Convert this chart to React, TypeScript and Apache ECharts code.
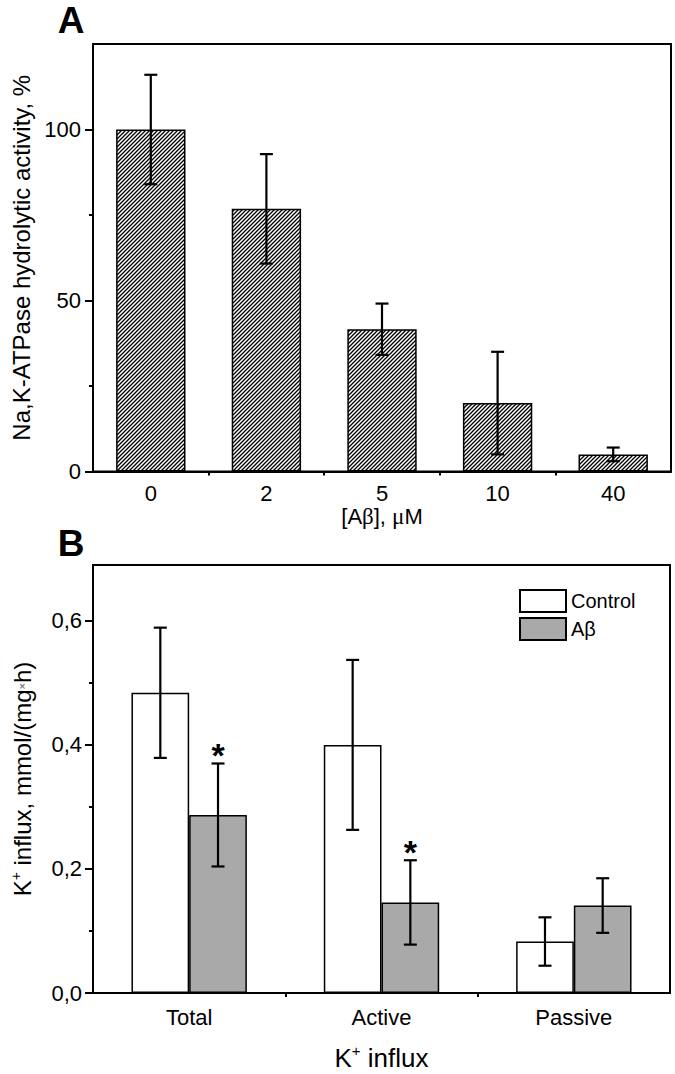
import React, { useEffect, useRef } from 'react';
import * as echarts from 'echarts';

const FONT = '"Liberation Sans", Arial, Helvetica, sans-serif';
const SERIF = '"Liberation Serif", "Times New Roman", serif';

// Panel A
const categoriesA = ['0', '2', '5', '10', '40'];
const activityA = [100, 76.8, 41.6, 20.0, 5.0];
const errorA = [16.0, 16.0, 7.5, 15.0, 2.0];
const yTicksA = [0, 50, 100];
const yMinorA = [25, 75];
const yMaxA = 125;

// Panel B
const categoriesB = ['Total', 'Active', 'Passive'];
const controlB = [0.484, 0.4, 0.083];
const controlErrB = [0.105, 0.137, 0.039];
const abetaB = [0.287, 0.146, 0.141];
const abetaErrB = [0.083, 0.068, 0.044];
const significanceB = ['*', '*', ''];
const yTicksB = [0, 0.2, 0.4, 0.6];
const yMinorB = [0.1, 0.3, 0.5];
const yMaxB = 0.69;

function makeHatch() {
  const c = document.createElement('canvas');
  c.width = 4;
  c.height = 4;
  const ctx = c.getContext('2d')!;
  ctx.fillStyle = '#fff';
  ctx.fillRect(0, 0, 4, 4);
  ctx.strokeStyle = '#000';
  ctx.lineWidth = 1.3;
  ctx.beginPath();
  ctx.moveTo(-1, 5);
  ctx.lineTo(5, -1);
  ctx.moveTo(-1, 1);
  ctx.lineTo(1, -1);
  ctx.moveTo(3, 5);
  ctx.lineTo(5, 3);
  ctx.stroke();
  return c;
}

const errorRender = (offsetFrac: number) => (params: any, api: any) => {
  const i = api.value(0);
  const m = api.value(1);
  const e = api.value(2);
  const band = api.size([1, 0])[0];
  const hi = api.coord([i, m + e]);
  const lo = api.coord([i, m - e]);
  const x = hi[0] + band * offsetFrac;
  const cap = 6.5;
  const style = { stroke: '#000', lineWidth: 2.2 };
  return {
    type: 'group',
    children: [
      { type: 'line', shape: { x1: x, y1: hi[1], x2: x, y2: lo[1] }, style },
      { type: 'line', shape: { x1: x - cap, y1: hi[1], x2: x + cap, y2: hi[1] }, style },
      { type: 'line', shape: { x1: x - cap, y1: lo[1], x2: x + cap, y2: lo[1] }, style },
    ],
  };
};

const axisLineStyle = { show: true, onZero: false, lineStyle: { color: '#000', width: 2 } };
const hiddenLine = { show: false, onZero: false };

export default function App() {
  const ref = useRef<HTMLDivElement>(null);
  useEffect(() => {
    if (!ref.current) return;
    const chart = echarts.init(ref.current, null, { renderer: 'svg' });
    const hatch = makeHatch();

    const option: any = {
      animation: false,
      backgroundColor: '#fff',
      textStyle: { fontFamily: FONT, color: '#000' },
      graphic: [
        { type: 'text', x: 71, y: 20, style: { text: 'A', fontSize: 37, fontWeight: 'bold', fontFamily: FONT, fill: '#000', align: 'center', verticalAlign: 'middle' } },
        { type: 'text', x: 71, y: 543, style: { text: 'B', fontSize: 37, fontWeight: 'bold', fontFamily: FONT, fill: '#000', align: 'center', verticalAlign: 'middle' } },
      ],
      grid: [
        { left: 93, top: 44, width: 578, height: 427.5, show: true, borderColor: '#000', borderWidth: 2, backgroundColor: 'transparent' },
        { left: 93, top: 565, width: 577, height: 428, show: true, borderColor: '#000', borderWidth: 2, backgroundColor: 'transparent' },
      ],
      legend: {
        data: ['Control', 'Aβ'],
        orient: 'vertical',
        left: 514,
        top: 584,
        itemWidth: 46,
        itemHeight: 22,
        itemGap: 4,
        icon: 'rect',
        selectedMode: false,
        textStyle: { fontSize: 20, fontFamily: FONT, color: '#000' },
      },
      xAxis: [
        {
          type: 'category', gridIndex: 0, data: categoriesA, position: 'bottom',
          axisLine: axisLineStyle,
          axisTick: { alignWithLabel: true, length: 8, lineStyle: { color: '#000', width: 2 } },
          axisLabel: { fontSize: 22, margin: 11, color: '#000', fontFamily: FONT },
          name: '{a|[A}{g|β}{a|], }{g|μ}{a|M}',
          nameLocation: 'middle', nameGap: 30,
          nameTextStyle: {
            rich: {
              a: { fontSize: 22, fontFamily: FONT, color: '#000' },
              g: { fontSize: 23, fontFamily: SERIF, color: '#000' },
            },
          },
        },
        {
          type: 'value', gridIndex: 0, min: -0.5, max: categoriesA.length - 0.5, position: 'bottom',
          axisLine: hiddenLine, splitLine: { show: false }, axisLabel: { show: false },
          axisTick: { show: true, customValues: categoriesA.slice(1).map((_, i) => i + 0.5), length: 4, lineStyle: { color: '#000', width: 2 } },
        },
        {
          type: 'category', gridIndex: 1, data: categoriesB, position: 'bottom',
          axisLine: axisLineStyle,
          axisTick: { alignWithLabel: true, length: 8, lineStyle: { color: '#000', width: 2 } },
          axisLabel: { fontSize: 22, margin: 13, color: '#000', fontFamily: FONT },
          name: '{a|K}{sup|+}{a| influx}',
          nameLocation: 'middle', nameGap: 50,
          nameTextStyle: {
            rich: {
              a: { fontSize: 26, fontFamily: FONT, color: '#000' },
              sup: { fontSize: 15, fontFamily: FONT, color: '#000', padding: [0, 0, 14, 0] },
            },
          },
        },
        {
          type: 'value', gridIndex: 1, min: -0.5, max: categoriesB.length - 0.5, position: 'bottom',
          axisLine: hiddenLine, splitLine: { show: false }, axisLabel: { show: false },
          axisTick: { show: true, customValues: categoriesB.slice(1).map((_, i) => i + 0.5), length: 4, lineStyle: { color: '#000', width: 2 } },
        },
      ],
      yAxis: [
        {
          type: 'value', gridIndex: 0, min: 0, max: yMaxA, position: 'left',
          axisLine: axisLineStyle, splitLine: { show: false },
          axisTick: { customValues: yTicksA, length: 8, lineStyle: { color: '#000', width: 2 } },
          axisLabel: { customValues: yTicksA, fontSize: 22, margin: 12, color: '#000', fontFamily: FONT },
          name: 'Na,K-ATPase hydrolytic activity, %',
          nameLocation: 'middle', nameGap: 58,
          nameTextStyle: { fontSize: 24, fontFamily: FONT, color: '#000' },
        },
        {
          type: 'value', gridIndex: 0, min: 0, max: yMaxA, position: 'left',
          axisLine: hiddenLine, splitLine: { show: false }, axisLabel: { show: false },
          axisTick: { show: true, customValues: yMinorA, length: 4, lineStyle: { color: '#000', width: 2 } },
        },
        {
          type: 'value', gridIndex: 1, min: 0, max: yMaxB, position: 'left',
          axisLine: axisLineStyle, splitLine: { show: false },
          axisTick: { customValues: yTicksB, length: 8, lineStyle: { color: '#000', width: 2 } },
          axisLabel: {
            customValues: yTicksB, fontSize: 22, margin: 11, color: '#000', fontFamily: FONT,
            formatter: (v: number) => v.toFixed(1).replace('.', ','),
          },
          name: '{a|K}{sup|+}{a| influx, mmol/(mg}{x|×}{a|h)}',
          nameLocation: 'middle', nameGap: 58,
          nameTextStyle: {
            rich: {
              a: { fontSize: 24, fontFamily: FONT, color: '#000' },
              sup: { fontSize: 14, fontFamily: FONT, color: '#000', padding: [0, 0, 12, 0] },
              x: { fontSize: 11, fontFamily: FONT, color: '#555' },
            },
          },
        },
        {
          type: 'value', gridIndex: 1, min: 0, max: yMaxB, position: 'left',
          axisLine: hiddenLine, splitLine: { show: false }, axisLabel: { show: false },
          axisTick: { show: true, customValues: yMinorB, length: 4, lineStyle: { color: '#000', width: 2 } },
        },
      ],
      series: [
        {
          name: 'activity', type: 'bar', xAxisIndex: 0, yAxisIndex: 0,
          data: activityA, barWidth: '60%',
          itemStyle: { color: { image: hatch, repeat: 'repeat' }, borderColor: '#000', borderWidth: 1.5 },
        },
        {
          name: 'activityErr', type: 'custom', xAxisIndex: 0, yAxisIndex: 0,
          renderItem: errorRender(0),
          data: activityA.map((m, i) => [i, m, errorA[i]]),
          encode: { x: 0, y: 1 }, z: 5,
        },
        {
          name: 'Control', type: 'bar', xAxisIndex: 2, yAxisIndex: 2,
          data: controlB, barWidth: '30%', barGap: '0%',
          itemStyle: { color: '#ffffff', borderColor: '#000', borderWidth: 1.5 },
        },
        {
          name: 'Aβ', type: 'bar', xAxisIndex: 2, yAxisIndex: 2,
          data: abetaB, barWidth: '30%', barGap: '0%',
          itemStyle: { color: '#a9a9a9', borderColor: '#000', borderWidth: 1.5 },
        },
        {
          name: 'controlErr', type: 'custom', xAxisIndex: 2, yAxisIndex: 2,
          renderItem: errorRender(-0.15),
          data: controlB.map((m, i) => [i, m, controlErrB[i]]),
          encode: { x: 0, y: 1 }, z: 5,
        },
        {
          name: 'abetaErr', type: 'custom', xAxisIndex: 2, yAxisIndex: 2,
          renderItem: errorRender(0.15),
          data: abetaB.map((m, i) => [i, m, abetaErrB[i]]),
          encode: { x: 0, y: 1 }, z: 5,
        },
        {
          name: 'significance', type: 'custom', xAxisIndex: 2, yAxisIndex: 2,
          renderItem: (params: any, api: any) => {
            const mark = significanceB[params.dataIndex];
            if (!mark) return null;
            const band = api.size([1, 0])[0];
            const p = api.coord([api.value(0), api.value(1)]);
            return {
              type: 'text',
              x: p[0] + band * 0.15,
              y: p[1] - 8,
              style: { text: mark, fontSize: 34, fontWeight: 'bold', fontFamily: FONT, fill: '#000', align: 'center', verticalAlign: 'middle' },
            };
          },
          data: abetaB.map((m, i) => [i, m + abetaErrB[i]]),
          encode: { x: 0, y: 1 }, z: 6,
        },
      ],
    };
    chart.setOption(option);
    return () => chart.dispose();
  }, []);
  return <div ref={ref} style={{ position: 'absolute', left: 0, top: 0, width: 675, height: 1074 }} />;
}
